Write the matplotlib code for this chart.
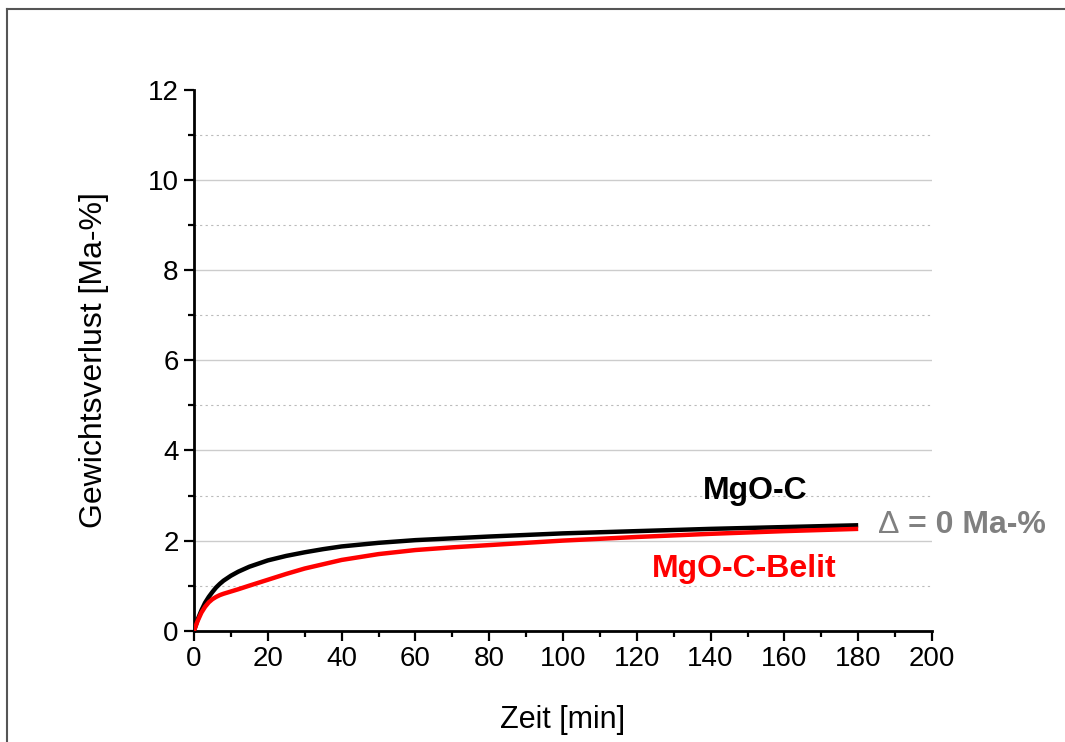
import matplotlib
matplotlib.use("Agg")
import matplotlib.pyplot as plt
from matplotlib.ticker import MultipleLocator
from matplotlib.lines import Line2D

plt.rcParams['font.family'] = ['Liberation Sans', 'DejaVu Sans']

# Data
t_mgoc = [0, 1, 2, 3, 4, 5, 6, 7, 8, 10, 12, 15, 20, 25, 30, 35, 40, 50, 60, 70, 80, 100, 120, 140, 160, 180]
w_mgoc = [0, 0.25, 0.45, 0.62, 0.75, 0.86, 0.96, 1.04, 1.11, 1.22, 1.31, 1.42, 1.56, 1.66, 1.74, 1.81, 1.87, 1.95, 2.01, 2.05, 2.09, 2.16, 2.21, 2.26, 2.30, 2.34]
t_belit = [0, 1, 2, 3, 4, 5, 6, 7, 8, 10, 12, 15, 20, 25, 30, 40, 50, 60, 70, 80, 100, 120, 140, 160, 180]
w_belit = [0, 0.22, 0.40, 0.53, 0.63, 0.70, 0.75, 0.79, 0.82, 0.87, 0.92, 1.00, 1.13, 1.26, 1.38, 1.57, 1.70, 1.79, 1.85, 1.90, 2.00, 2.08, 2.15, 2.21, 2.26]

xticks = [0, 20, 40, 60, 80, 100, 120, 140, 160, 180, 200]
yticks = [0, 2, 4, 6, 8, 10, 12]

fig = plt.figure(figsize=(10.65, 7.42), dpi=100)
ax = fig.add_axes([194/1065, 1 - 630.7/742, (932-194)/1065, (630.7-90)/742])

# border frame
fig.add_artist(Line2D([7/1065, 7/1065], [0, 1 - 8.5/742], transform=fig.transFigure, color='#555555', lw=1.5))
fig.add_artist(Line2D([7/1065, 1], [1 - 8.5/742, 1 - 8.5/742], transform=fig.transFigure, color='#555555', lw=1.5))

for y in [2, 4, 6, 8, 10]:
    ax.axhline(y, color='#cccccc', lw=1.0, zorder=0)
for y in [1, 3, 5, 7, 9, 11]:
    ax.axhline(y, color='#bbbbbb', lw=0.8, ls=(0, (2, 3)), zorder=0)

ax.plot(t_mgoc, w_mgoc, color='black', lw=3.2, solid_capstyle='butt', zorder=3)
ax.plot(t_belit, w_belit, color='#ff0000', lw=3.2, solid_capstyle='butt', zorder=4)

ax.set_xlim(0, 200)
ax.set_ylim(0, 12)
ax.set_xticks(xticks)
ax.set_yticks(yticks)
ax.xaxis.set_minor_locator(MultipleLocator(10))
ax.yaxis.set_minor_locator(MultipleLocator(1))

for s in ['top', 'right']:
    ax.spines[s].set_visible(False)
for s in ['left', 'bottom']:
    ax.spines[s].set_linewidth(2.0)

ax.tick_params(which='major', direction='out', length=7, width=1.6, labelsize=20, pad=4)
ax.tick_params(which='minor', direction='out', length=4.5, width=1.6)

ax.set_xlabel('Zeit [min]', fontsize=22, labelpad=24)
ax.set_ylabel('Gewichtsverlust [Ma-%]', fontsize=23, labelpad=28)

ax.text(152, 3.1, 'MgO-C', fontsize=23, fontweight='bold', color='black', ha='center', va='center')
ax.text(149, 1.37, 'MgO-C-Belit', fontsize=23, fontweight='bold', color='#ff0000', ha='center', va='center')
ax.annotate('\u0394', xy=(185.5, 2.35), xycoords='data', fontsize=23, fontweight='normal',
            color='#808080', ha='left', va='center', annotation_clip=False)
ax.annotate('= 0 Ma-%', xy=(185.5, 2.35), xycoords='data', xytext=(21, 0), textcoords='offset points',
            fontsize=23, fontweight='bold', color='#808080', ha='left', va='center', annotation_clip=False)

fig.savefig('out.png', dpi=100)
